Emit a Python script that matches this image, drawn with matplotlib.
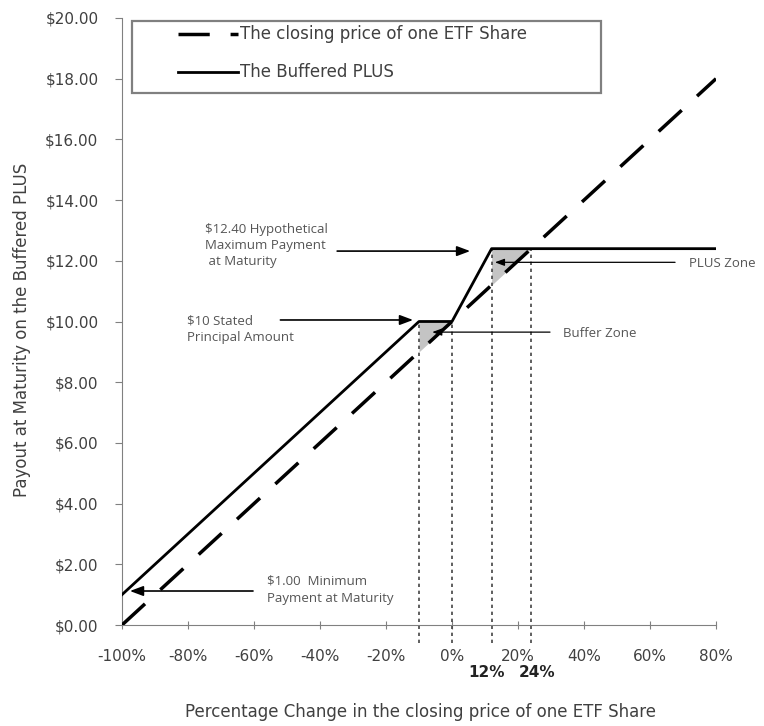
import matplotlib
matplotlib.use('Agg')
import matplotlib.pyplot as plt
from matplotlib.lines import Line2D
from matplotlib.patches import Rectangle
import numpy as np

# data (percent change vs payout in $)
etf_x = [-100, 80]
etf_y = [0.0, 18.0]
plus_x = [-100, -10, 0, 12, 80]
plus_y = [1.0, 10.0, 10.0, 12.4, 12.4]
buffer_zone = [-10, 0]
plus_zone = [12, 24]
guide_x = [-10, 0, 12, 24]
x_ticks = [-100, -80, -60, -40, -20, 0, 20, 40, 60, 80]
y_ticks = [0, 2, 4, 6, 8, 10, 12, 14, 16, 18, 20]
series_names = ['The closing price of one ETF Share', 'The Buffered PLUS']

plt.rcParams['font.family'] = ['DejaVu Sans']
note_font = ['Open Sans', 'DejaVu Sans']
gray = '#555555'
W, H = 764, 726

fig = plt.figure(figsize=(W / 100, H / 100), dpi=100)
ax = fig.add_axes([122 / W, 1 - 625 / H, 594 / W, 607 / H])

def etf(x):
    return np.interp(x, etf_x, etf_y)

def plus(x):
    return np.interp(x, plus_x, plus_y)

# shaded zones
for lo, hi in (buffer_zone, plus_zone):
    xs = np.linspace(lo, hi, 50)
    ax.fill_between(xs, etf(xs), plus(xs), color='#c4c4c4', lw=0, zorder=1)

# vertical guides
for gx in guide_x:
    ax.plot([gx, gx], [-0.6, float(plus(gx))], color='#444444', lw=1.2,
            ls=(0, (2, 2.2)), clip_on=False, zorder=2)

ax.plot(etf_x, etf_y, color='black', lw=2.5, dashes=(9, 6), zorder=3)
ax.plot(plus_x, plus_y, color='black', lw=2.0, zorder=4)

ax.set_xlim(-100, 80)
ax.set_ylim(0, 20)
ax.set_xticks(x_ticks)
ax.set_xticklabels([f'{v}%' for v in x_ticks])
ax.set_yticks(y_ticks)
ax.set_yticklabels([f'${v:.2f}' for v in y_ticks])
for s in ('top', 'right'):
    ax.spines[s].set_visible(False)
for s in ('left', 'bottom'):
    ax.spines[s].set_color('#808080')
ax.tick_params(axis='both', colors='#808080', labelcolor='#404040', labelsize=11)
ax.tick_params(axis='x', direction='inout', length=6, pad=14)
ax.tick_params(axis='y', direction='out', length=5, pad=12)

ax.set_xlabel('Percentage Change in the closing price of one ETF Share',
              fontsize=12, color='#404040', va='center')
ax.xaxis.set_label_coords(0.502, -0.143)
ax.set_ylabel('Payout at Maturity on the Buffered PLUS', fontsize=12,
              color='#404040', va='center')
ax.yaxis.set_label_coords(-0.168, 0.486)

# bold 12% / 24% labels
tr = ax.get_xaxis_transform()
for xpos, lab in ((10.6, '12%'), (25.8, '24%')):
    ax.text(xpos, -0.078, lab, transform=tr, ha='center', va='center',
            fontsize=11, fontweight='bold', color='#222222')

# legend box drawn in figure pixels
ft = fig.transFigure
fig.add_artist(Rectangle((132 / W, 1 - 93 / H), (601 - 132) / W, 72 / H,
                         transform=ft, fill=False, edgecolor='#808080', lw=1.6))
fig.add_artist(Line2D([178 / W, 238 / W], [1 - 34 / H] * 2, transform=ft,
                      color='black', lw=2.5, dashes=(9, 6)))
fig.add_artist(Line2D([178 / W, 238 / W], [1 - 72 / H] * 2, transform=ft,
                      color='black', lw=2.0))
for yy, name in zip((34, 72), series_names):
    fig.text(240 / W, 1 - yy / H, name, fontsize=12, color='#404040',
             ha='left', va='center')

def arrow(x0, x1, y, lw=1.2, head=0.5):
    ax.annotate('', xy=(x1, y), xytext=(x0, y),
                arrowprops=dict(arrowstyle=f'-|>,head_length={head*1.6},head_width={head*0.6}',
                                color='black', lw=lw, shrinkA=0, shrinkB=0),
                zorder=5)

# annotations
ax.text(-74.8, 12.49, '$12.40 Hypothetical\nMaximum Payment\n at Maturity',
        family=note_font, fontsize=9.5, color=gray, ha='left', va='center',
        linespacing=1.3)
arrow(-34.8, 5.5, 12.32)

ax.text(71.8, 11.9, 'PLUS Zone', family=note_font, fontsize=9.5, color=gray,
        ha='left', va='center')
arrow(67.6, 13.0, 11.95, lw=0.9, head=0.35)

ax.text(-80.3, 9.75, '$10 Stated\nPrincipal Amount', family=note_font,
        fontsize=9.5, color=gray, ha='left', va='center', linespacing=1.4)
arrow(-52.0, -11.8, 10.05)

ax.text(33.6, 9.62, 'Buffer Zone', family=note_font, fontsize=9.5, color=gray,
        ha='left', va='center')
arrow(29.7, -6.0, 9.65, lw=0.9, head=0.35)

ax.text(-56.0, 1.15, '$1.00  Minimum\nPayment at Maturity', family=note_font,
        fontsize=9.5, color=gray, ha='left', va='center', linespacing=1.45)
arrow(-60.3, -97.6, 1.12)

fig.savefig('out.png', dpi=100)
plt.close(fig)
